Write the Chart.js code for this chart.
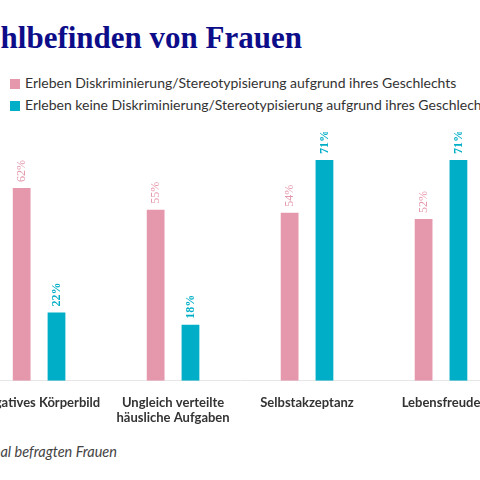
<!DOCTYPE html>
<html><head><meta charset="utf-8">
<script src="https://cdn.jsdelivr.net/npm/chart.js@4"></script>
<style>
body{margin:0;width:480px;height:480px;overflow:hidden;background:#fff;position:relative;font-family:Lato,sans-serif}
#title{position:absolute;right:178px;top:20px;font:bold 31px "Liberation Serif",serif;color:#0d0d8a;white-space:nowrap}
.leg{position:absolute;left:10px;font-size:14px;color:#333;white-space:nowrap}
.leg i{display:inline-block;width:10px;height:10px;margin-right:5px;vertical-align:-1px}
#foot{position:absolute;right:363px;top:443px;font-style:italic;font-size:14.5px;color:#444;white-space:nowrap}
#wrap{position:absolute;left:-28px;top:132px;width:536px;height:300px}
</style></head><body>
<div id="title">Wohlbefinden von Frauen</div>
<div class="leg" style="top:74px"><i style="background:#e597ab"></i>Erleben Diskriminierung/Stereotypisierung aufgrund ihres Geschlechts</div>
<div class="leg" style="top:96px"><i style="background:#00aec7"></i>Erleben keine Diskriminierung/Stereotypisierung aufgrund ihres Geschlechts</div>
<div id="foot">global befragten Frauen</div>
<div id="wrap"><canvas id="c"></canvas></div>
<script>
const categories = [['Negatives Körperbild'], ['Ungleich verteilte','häusliche Aufgaben'], ['Selbstakzeptanz'], ['Lebensfreude']];
const withDiscrimination = [62, 55, 54, 52];
const withoutDiscrimination = [22, 18, 71, 71];
const colors = ['#e597ab', '#00aec7'];

const valueLabels = {
  id: 'valueLabels',
  afterDatasetsDraw(chart) {
    const ctx = chart.ctx;
    chart.data.datasets.forEach((ds, i) => {
      chart.getDatasetMeta(i).data.forEach((bar, j) => {
        ctx.save();
        ctx.translate(bar.x, bar.y - 6);
        ctx.rotate(-Math.PI / 2);
        ctx.font = (i ? 'bold ' : '') + '12px "Liberation Serif", serif';
        ctx.fillStyle = colors[i];
        ctx.textAlign = 'left';
        ctx.textBaseline = 'middle';
        ctx.fillText(ds.data[j] + '%', 0, 0);
        ctx.restore();
      });
    });
  }
};

new Chart(document.getElementById('c'), {
  type: 'bar',
  data: {
    labels: categories,
    datasets: [
      {label: 'Erleben Diskriminierung', data: withDiscrimination, backgroundColor: colors[0]},
      {label: 'Erleben keine Diskriminierung', data: withoutDiscrimination, backgroundColor: colors[1]}
    ]
  },
  options: {
    responsive: true,
    maintainAspectRatio: false,
    animation: false,
    layout: {padding: 0},
    datasets: {bar: {categoryPercentage: 0.52, barPercentage: 0.51}},
    plugins: {legend: {display: false}, tooltip: {enabled: false}},
    scales: {
      x: {
        grid: {display: false},
        border: {color: '#e6e6e6'},
        ticks: {color: '#333', font: {family: 'Lato, sans-serif', size: 13, weight: 'bold'}, maxRotation: 0, padding: 6}
      },
      y: {display: false, min: 0, max: 80}
    }
  },
  plugins: [valueLabels]
});
</script>
</body></html>
